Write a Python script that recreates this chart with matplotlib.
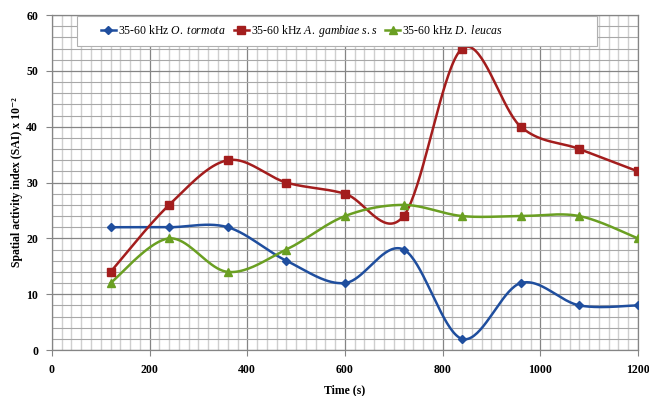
import numpy as np
import matplotlib
matplotlib.use("Agg")
import matplotlib.pyplot as plt
from matplotlib.lines import Line2D
from matplotlib.patches import Rectangle
from matplotlib.ticker import MultipleLocator

time_s = [120, 240, 360, 480, 600, 720, 840, 960, 1080, 1200]
o_tormota = [22, 22, 22, 16, 12, 18, 2, 12, 8, 8]
a_gambiae = [14, 26, 34, 30, 28, 24, 54, 40, 36, 32]
d_leucas = [12, 20, 14, 18, 24, 26, 24, 24, 24, 20]

series = [
    (o_tormota, "#1f4e9e", "D", 4.5, "35-60 kHz $\\mathit{O.\\ tormota}$"),
    (a_gambiae, "#a31d1d", "s", 6, "35-60 kHz $\\mathit{A.\\ gambiae\\ s.s}$"),
    (d_leucas, "#6a9f22", "^", 6, "35-60 kHz $\\mathit{D.\\ leucas}$"),
]


def smooth(xs, ys, n=40):
    x = np.asarray(xs, float)
    y = np.asarray(ys, float)
    px = np.concatenate([[x[0]], x, [x[-1]]])
    py = np.concatenate([[y[0]], y, [y[-1]]])
    ox, oy = [], []
    t = np.linspace(0, 1, n)
    for i in range(1, len(px) - 2):
        p0 = np.array([px[i - 1], py[i - 1]])
        p1 = np.array([px[i], py[i]])
        p2 = np.array([px[i + 1], py[i + 1]])
        p3 = np.array([px[i + 2], py[i + 2]])
        b1 = p1 + (p2 - p0) / 6.0
        b2 = p2 - (p3 - p1) / 6.0
        for k in range(2):
            c = ((1 - t) ** 3) * p1[k] + 3 * ((1 - t) ** 2) * t * b1[k] + 3 * (1 - t) * t ** 2 * b2[k] + t ** 3 * p2[k]
            (ox if k == 0 else oy).append(c)
    return np.concatenate(ox), np.concatenate(oy)


plt.rcParams['font.family'] = ['Liberation Serif', 'DejaVu Serif']
plt.rcParams['mathtext.fontset'] = 'custom'
plt.rcParams['mathtext.it'] = 'Liberation Serif:italic'
plt.rcParams['mathtext.rm'] = 'Liberation Serif'

fig = plt.figure(figsize=(6.49, 3.96), dpi=100)
ax = fig.add_axes([0.080, 0.116, 0.903, 0.846])

ax.set_xlim(0, 1200)
ax.set_ylim(0, 60)
ax.xaxis.set_major_locator(MultipleLocator(200))
ax.xaxis.set_minor_locator(MultipleLocator(20))
ax.yaxis.set_major_locator(MultipleLocator(10))
ax.yaxis.set_minor_locator(MultipleLocator(2))

ax.grid(which='minor', axis='x', color='#cfcfcf', lw=1.0)
ax.grid(which='minor', axis='y', color='#a8a8a8', lw=0.8)
ax.grid(which='major', axis='both', color='#858585', lw=0.9)
ax.set_axisbelow(True)

for sp in ax.spines.values():
    sp.set_color('#858585')
    sp.set_linewidth(0.9)

ax.tick_params(which='major', direction='out', length=4, color='#858585', labelsize=8.5, pad=6)
ax.tick_params(which='minor', length=0)
for lab in ax.get_xticklabels() + ax.get_yticklabels():
    lab.set_fontweight('bold')

handles = []
for ys, col, mk, ms, lab in series:
    sx, sy = smooth(time_s, ys)
    ax.plot(sx, sy, color=col, lw=1.8, zorder=3)
    ax.plot(time_s, ys, linestyle='none', marker=mk, color=col, ms=ms, zorder=4)
    handles.append(Line2D([0], [0], color=col, lw=1.8, marker=mk, ms=ms, label=lab))

# legend frame (wide Excel-style box)
frame = Rectangle((0.043, 0.907), 0.887, 0.09, transform=ax.transAxes,
                  facecolor='white', edgecolor='#b0b0b0', lw=0.8, zorder=5)
ax.add_patch(frame)

leg = ax.legend(handles=handles, loc='center left', bbox_to_anchor=(0.083, 0.952), ncol=3,
                fontsize=8.5, frameon=False,
                handlelength=1.3, handletextpad=0.15, columnspacing=0.7,
                borderpad=0.0, borderaxespad=0.0)
leg.set_zorder(6)

ax.set_xlabel('Time (s)', fontsize=8.5, fontweight='bold', labelpad=6)
ax.set_ylabel('Spatial activity index (SAI) x 10\u207b\u00b2', fontsize=8.5, fontweight='bold')
ax.yaxis.set_label_coords(-0.049, 0.5)

fig.savefig('out.png', dpi=100)
